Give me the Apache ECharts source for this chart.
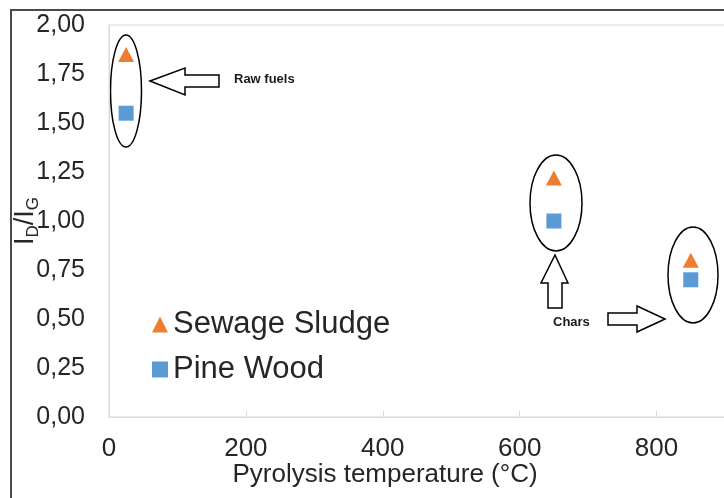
<!DOCTYPE html>
<html>
<head>
<meta charset="UTF-8">
<title>ID/IG vs pyrolysis temperature</title>
<script src="https://cdn.jsdelivr.net/npm/echarts@6/dist/echarts.min.js"></script>
<style>
    html, body { margin: 0; padding: 0; background: #fff; }
    #chart { width: 724px; height: 498px; }
</style>
</head>
<body>
<div id="chart"></div>
<script type="text/javascript">
    // data
    var temps = [25, 650, 850];
    var sludge = [1.85, 1.22, 0.80];
    var pine = [1.55, 1.00, 0.70];
    var seriesNames = ['Sewage Sludge', 'Pine Wood'];
    var xTicks = {min: 0, max: 900, interval: 200};
    var yTicks = {min: 0, max: 2, interval: 0.25};

    var sludgeData = [];
    var pineData = [];
    for (var i = 0; i < temps.length; i++) {
        sludgeData.push([temps[i], sludge[i]]);
        pineData.push([temps[i], pine[i]]);
    }

    var font = 'Liberation Sans, Arial, sans-serif';
    var ink = '#262626';

    var chart = echarts.init(document.getElementById('chart'));
    chart.setOption({
        animation: false,
        textStyle: {fontFamily: font},
        grid: {
            left: 109,
            top: 25,
            width: 616,
            bottom: 81,
            show: true,
            borderColor: '#d9d9d9',
            borderWidth: 1,
            outerBoundsMode: 'none'
        },
        legend: {
            orient: 'vertical',
            left: 147,
            top: 304,
            itemWidth: 16,
            itemHeight: 16,
            itemGap: 14,
            data: seriesNames,
            textStyle: {fontSize: 31, color: ink, fontFamily: font}
        },
        xAxis: {
            type: 'value',
            min: xTicks.min,
            max: xTicks.max,
            interval: xTicks.interval,
            name: 'Pyrolysis temperature (°C)',
            nameLocation: 'middle',
            nameGap: 45,
            nameMoveOverlap: false,
            nameTextStyle: {fontSize: 26, color: ink, fontFamily: font, padding: [0, 64, 0, 0]},
            axisLine: {show: true, lineStyle: {color: '#d9d9d9'}},
            axisTick: {show: true, inside: true, length: 6, lineStyle: {color: '#d9d9d9'}},
            axisLabel: {fontSize: 26, color: ink, margin: 19, showMaxLabel: false},
            splitLine: {show: false}
        },
        yAxis: {
            type: 'value',
            min: yTicks.min,
            max: yTicks.max,
            interval: yTicks.interval,
            name: '{a|I}{b|D}{a|/I}{b|G}',
            nameLocation: 'middle',
            nameRotate: 90,
            nameGap: 67,
            nameMoveOverlap: false,
            nameTextStyle: {
                color: ink,
                rich: {
                    a: {fontSize: 27, lineHeight: 33, color: ink, fontFamily: font},
                    b: {fontSize: 17, lineHeight: 17, verticalAlign: 'bottom', color: ink, fontFamily: font}
                }
            },
            axisLine: {show: true, lineStyle: {color: '#d9d9d9'}},
            axisTick: {show: false},
            axisLabel: {
                fontSize: 25,
                color: ink,
                margin: 24,
                formatter: function (v) {
                    return v.toFixed(2).replace('.', ',');
                }
            },
            splitLine: {show: false}
        },
        series: [
            {
                name: seriesNames[0],
                type: 'scatter',
                symbol: 'triangle',
                symbolSize: [16, 15],
                itemStyle: {color: '#ED7D31', opacity: 1},
                data: sludgeData
            },
            {
                name: seriesNames[1],
                type: 'scatter',
                symbol: 'rect',
                symbolSize: 15,
                itemStyle: {color: '#5B9BD5', opacity: 1},
                data: pineData
            }
        ],
        graphic: [
            // outer frame of the figure
            {
                type: 'rect', silent: true,
                shape: {x: 11, y: 10, width: 760, height: 560},
                style: {fill: 'none', stroke: '#4a4a4a', lineWidth: 2}
            },
            // group ellipses
            {type: 'ellipse', shape: {cx: 126, cy: 91, rx: 15.5, ry: 56}, style: {fill: 'none', stroke: '#000', lineWidth: 1.5}},
            {type: 'ellipse', shape: {cx: 556, cy: 203, rx: 26, ry: 48}, style: {fill: 'none', stroke: '#000', lineWidth: 1.5}},
            {type: 'ellipse', shape: {cx: 693, cy: 275, rx: 25, ry: 48}, style: {fill: 'none', stroke: '#000', lineWidth: 1.5}},
            // arrows
            {
                type: 'polygon',
                shape: {points: [[150, 81], [185, 68], [185, 75], [219, 75], [219, 87], [185, 87], [185, 95]]},
                style: {fill: '#fff', stroke: '#000', lineWidth: 1.5}
            },
            {
                type: 'polygon',
                shape: {points: [[555, 255], [568, 283], [562, 283], [562, 308], [548, 308], [548, 283], [541, 283]]},
                style: {fill: '#fff', stroke: '#000', lineWidth: 1.5}
            },
            {
                type: 'polygon',
                shape: {points: [[665, 319], [637, 332], [637, 325], [608, 325], [608, 313], [637, 313], [637, 306]]},
                style: {fill: '#fff', stroke: '#000', lineWidth: 1.5}
            },
            {
                type: 'text', left: 234, top: 73,
                style: {text: 'Raw fuels', font: 'bold 13px ' + font, fill: '#1a1a1a'}
            },
            {
                type: 'text', left: 553, top: 316,
                style: {text: 'Chars', font: 'bold 13px ' + font, fill: '#1a1a1a'}
            }
        ]
    });
</script>
</body>
</html>
